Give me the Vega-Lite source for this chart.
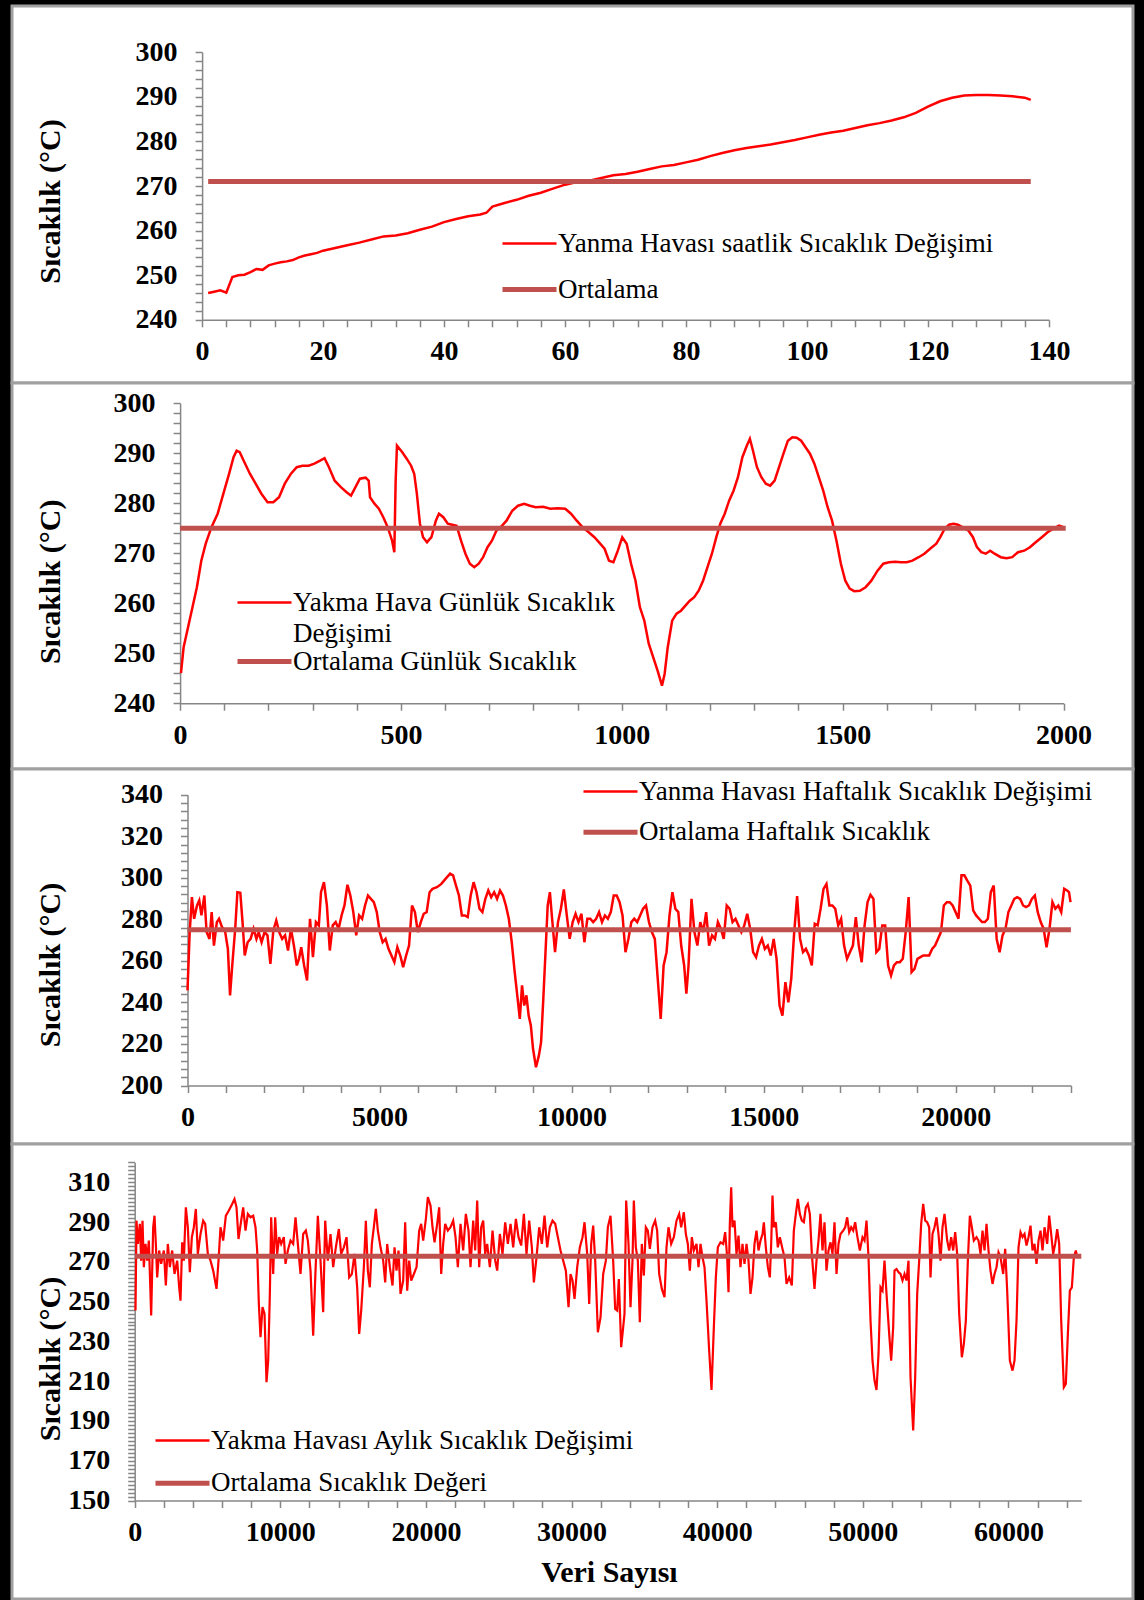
{
"$schema": "https://vega.github.io/schema/vega-lite/v6.json",
"background": "black",
"padding": {"left": 10, "top": 4, "right": 12, "bottom": 0},
"spacing": 0,
"bounds": "flush",
"resolve": {"scale": {"color": "independent"}, "legend": {"color": "independent"}},
"config": {
 "view": {"stroke": "#a0a0a0", "strokeWidth": 3, "fill": "white"},
 "axis": {"grid": false, "domainColor": "#868686", "domainWidth": 1.5, "tickColor": "#868686", "tickWidth": 1.5, "tickSize": 7, "labelFont": "Liberation Serif", "labelFontSize": 28, "labelFontWeight": "bold", "labelColor": "black", "labelOverlap": false, "labelFlush": false, "labelBound": false, "titleFont": "Liberation Serif", "titleFontSize": 30, "titleFontWeight": "bold", "titleColor": "black"},
 "axisX": {"labelPadding": 11},
 "axisY": {"labelPadding": 18},
 "legend": {"labelFont": "Liberation Serif", "labelFontSize": 27, "labelColor": "black", "labelLimit": 1000, "padding": 0}
},
"datasets": {
 "p1": [{"x":1,"y":246.0},{"x":2,"y":246.3},{"x":3,"y":246.6},{"x":4,"y":246.1},{"x":5,"y":249.6},{"x":6,"y":250.0},{"x":7,"y":250.1},{"x":8,"y":250.7},{"x":9,"y":251.4},{"x":10,"y":251.2},{"x":11,"y":252.2},{"x":12,"y":252.6},{"x":13,"y":252.9},{"x":14,"y":253.1},{"x":15,"y":253.4},{"x":16,"y":254.0},{"x":17,"y":254.4},{"x":18,"y":254.7},{"x":19,"y":255.0},{"x":20,"y":255.5},{"x":22,"y":256.1},{"x":24,"y":256.7},{"x":26,"y":257.3},{"x":28,"y":258.0},{"x":30,"y":258.7},{"x":32,"y":258.9},{"x":34,"y":259.4},{"x":36,"y":260.2},{"x":38,"y":260.9},{"x":40,"y":261.9},{"x":42,"y":262.6},{"x":44,"y":263.2},{"x":46,"y":263.6},{"x":47,"y":264.0},{"x":48,"y":265.4},{"x":50,"y":266.2},{"x":52,"y":266.9},{"x":54,"y":267.8},{"x":56,"y":268.5},{"x":58,"y":269.4},{"x":60,"y":270.3},{"x":62,"y":270.9},{"x":64,"y":271.2},{"x":66,"y":271.8},{"x":68,"y":272.4},{"x":70,"y":272.7},{"x":72,"y":273.2},{"x":74,"y":273.8},{"x":76,"y":274.4},{"x":78,"y":274.7},{"x":80,"y":275.3},{"x":82,"y":275.9},{"x":84,"y":276.7},{"x":86,"y":277.4},{"x":88,"y":278.0},{"x":90,"y":278.5},{"x":92,"y":278.9},{"x":94,"y":279.3},{"x":96,"y":279.8},{"x":98,"y":280.3},{"x":100,"y":280.9},{"x":102,"y":281.5},{"x":104,"y":282.0},{"x":106,"y":282.4},{"x":108,"y":283.0},{"x":110,"y":283.6},{"x":112,"y":284.1},{"x":114,"y":284.7},{"x":116,"y":285.4},{"x":118,"y":286.4},{"x":120,"y":287.8},{"x":122,"y":289.0},{"x":124,"y":289.8},{"x":126,"y":290.3},{"x":128,"y":290.4},{"x":130,"y":290.4},{"x":132,"y":290.3},{"x":134,"y":290.1},{"x":136,"y":289.8},{"x":137,"y":289.3}],
 "m1": [{"x":1,"y":271},{"x":137,"y":271}],
 "p2": [{"x":2,"y":246.0},{"x":8,"y":251.2},{"x":18,"y":255.2},{"x":28,"y":259.2},{"x":38,"y":263.2},{"x":48,"y":268.5},{"x":58,"y":271.9},{"x":71,"y":275.2},{"x":85,"y":277.9},{"x":98,"y":281.9},{"x":111,"y":285.9},{"x":121,"y":289.2},{"x":128,"y":290.5},{"x":135,"y":290.2},{"x":144,"y":288.5},{"x":158,"y":285.9},{"x":171,"y":283.9},{"x":184,"y":281.9},{"x":198,"y":280.2},{"x":211,"y":280.2},{"x":224,"y":281.2},{"x":237,"y":283.9},{"x":251,"y":285.9},{"x":264,"y":287.2},{"x":277,"y":287.5},{"x":291,"y":287.5},{"x":304,"y":287.9},{"x":317,"y":288.5},{"x":327,"y":289.0},{"x":337,"y":287.2},{"x":350,"y":284.5},{"x":364,"y":283.2},{"x":377,"y":282.2},{"x":387,"y":281.5},{"x":397,"y":283.2},{"x":407,"y":284.9},{"x":420,"y":285.1},{"x":427,"y":284.5},{"x":430,"y":281.2},{"x":440,"y":279.9},{"x":450,"y":278.9},{"x":460,"y":277.2},{"x":470,"y":275.2},{"x":480,"y":272.5},{"x":485,"y":270.2},{"x":488,"y":284.5},{"x":491,"y":291.5},{"x":503,"y":290.2},{"x":513,"y":288.9},{"x":523,"y":287.5},{"x":530,"y":285.9},{"x":536,"y":281.9},{"x":543,"y":275.9},{"x":550,"y":273.2},{"x":559,"y":272.2},{"x":569,"y":273.2},{"x":579,"y":276.5},{"x":586,"y":277.9},{"x":596,"y":277.2},{"x":606,"y":275.9},{"x":616,"y":275.7},{"x":626,"y":275.5},{"x":636,"y":272.5},{"x":646,"y":269.9},{"x":656,"y":267.9},{"x":666,"y":267.2},{"x":676,"y":267.9},{"x":686,"y":269.2},{"x":696,"y":271.2},{"x":706,"y":272.5},{"x":716,"y":274.5},{"x":729,"y":275.5},{"x":739,"y":276.5},{"x":752,"y":278.5},{"x":765,"y":279.5},{"x":779,"y":279.9},{"x":792,"y":279.5},{"x":805,"y":279.2},{"x":822,"y":279.3},{"x":838,"y":278.9},{"x":855,"y":279.0},{"x":872,"y":278.9},{"x":885,"y":277.9},{"x":898,"y":276.5},{"x":911,"y":275.2},{"x":925,"y":274.2},{"x":938,"y":273.2},{"x":951,"y":271.9},{"x":961,"y":270.9},{"x":971,"y":268.5},{"x":981,"y":268.2},{"x":991,"y":270.5},{"x":1001,"y":273.2},{"x":1011,"y":271.9},{"x":1021,"y":267.9},{"x":1031,"y":264.5},{"x":1041,"y":259.2},{"x":1051,"y":256.5},{"x":1061,"y":251.9},{"x":1071,"y":249.2},{"x":1081,"y":246.5},{"x":1091,"y":243.5},{"x":1097,"y":245.9},{"x":1104,"y":251.2},{"x":1114,"y":256.5},{"x":1124,"y":257.9},{"x":1134,"y":258.5},{"x":1144,"y":259.5},{"x":1154,"y":260.5},{"x":1164,"y":261.2},{"x":1174,"y":262.5},{"x":1184,"y":264.5},{"x":1194,"y":267.2},{"x":1204,"y":269.9},{"x":1214,"y":273.2},{"x":1223,"y":275.9},{"x":1233,"y":277.9},{"x":1243,"y":280.5},{"x":1253,"y":282.5},{"x":1263,"y":285.2},{"x":1273,"y":289.2},{"x":1283,"y":291.5},{"x":1290,"y":292.9},{"x":1297,"y":290.5},{"x":1306,"y":287.2},{"x":1316,"y":285.2},{"x":1326,"y":283.9},{"x":1336,"y":283.5},{"x":1346,"y":284.5},{"x":1356,"y":287.2},{"x":1366,"y":289.9},{"x":1376,"y":292.5},{"x":1386,"y":293.2},{"x":1396,"y":293.1},{"x":1406,"y":292.5},{"x":1416,"y":291.2},{"x":1426,"y":289.9},{"x":1436,"y":287.9},{"x":1446,"y":285.2},{"x":1456,"y":282.5},{"x":1466,"y":279.2},{"x":1476,"y":276.5},{"x":1486,"y":272.5},{"x":1496,"y":267.9},{"x":1506,"y":264.5},{"x":1516,"y":262.9},{"x":1526,"y":262.4},{"x":1539,"y":262.5},{"x":1552,"y":263.2},{"x":1565,"y":264.5},{"x":1579,"y":266.5},{"x":1592,"y":267.9},{"x":1605,"y":268.2},{"x":1619,"y":268.3},{"x":1632,"y":268.2},{"x":1645,"y":268.2},{"x":1658,"y":268.5},{"x":1672,"y":269.2},{"x":1685,"y":269.9},{"x":1698,"y":270.9},{"x":1712,"y":271.9},{"x":1721,"y":273.2},{"x":1731,"y":274.9},{"x":1741,"y":275.7},{"x":1751,"y":275.9},{"x":1761,"y":275.7},{"x":1771,"y":275.2},{"x":1785,"y":274.5},{"x":1795,"y":273.2},{"x":1804,"y":271.2},{"x":1814,"y":270.2},{"x":1824,"y":269.9},{"x":1834,"y":270.5},{"x":1844,"y":269.9},{"x":1858,"y":269.2},{"x":1871,"y":269.0},{"x":1884,"y":269.2},{"x":1897,"y":270.2},{"x":1911,"y":270.5},{"x":1924,"y":271.2},{"x":1937,"y":272.2},{"x":1951,"y":273.2},{"x":1964,"y":274.2},{"x":1977,"y":274.9},{"x":1990,"y":275.5},{"x":2000,"y":275.2}],
 "m2": [{"x":0,"y":275},{"x":2005,"y":275}],
 "p3": [{"x":0,"y":245.8},{"x":57,"y":273.9},{"x":115,"y":290.7},{"x":172,"y":280.3},{"x":248,"y":286.7},{"x":306,"y":289.1},{"x":363,"y":281.9},{"x":439,"y":291.5},{"x":497,"y":273.9},{"x":573,"y":270.6},{"x":630,"y":283.5},{"x":688,"y":267.4},{"x":764,"y":278.7},{"x":821,"y":280.3},{"x":898,"y":276.3},{"x":974,"y":274.7},{"x":1051,"y":265.8},{"x":1108,"y":243.4},{"x":1165,"y":257.8},{"x":1242,"y":275.5},{"x":1299,"y":293.1},{"x":1375,"y":292.8},{"x":1433,"y":278.7},{"x":1490,"y":262.6},{"x":1566,"y":269.0},{"x":1643,"y":270.6},{"x":1719,"y":275.5},{"x":1795,"y":270.6},{"x":1853,"y":273.9},{"x":1929,"y":269.0},{"x":2006,"y":273.9},{"x":2082,"y":272.3},{"x":2158,"y":258.6},{"x":2235,"y":274.7},{"x":2311,"y":279.5},{"x":2388,"y":273.9},{"x":2464,"y":270.6},{"x":2540,"y":272.3},{"x":2617,"y":265.0},{"x":2693,"y":275.5},{"x":2770,"y":267.4},{"x":2846,"y":257.8},{"x":2903,"y":261.0},{"x":2961,"y":266.6},{"x":3037,"y":257.8},{"x":3113,"y":250.6},{"x":3190,"y":280.3},{"x":3266,"y":261.8},{"x":3343,"y":278.7},{"x":3419,"y":277.1},{"x":3476,"y":293.1},{"x":3553,"y":297.9},{"x":3629,"y":286.7},{"x":3705,"y":265.0},{"x":3782,"y":277.1},{"x":3858,"y":278.7},{"x":3935,"y":275.5},{"x":4011,"y":281.9},{"x":4087,"y":286.7},{"x":4164,"y":296.7},{"x":4240,"y":291.5},{"x":4317,"y":283.5},{"x":4393,"y":272.3},{"x":4469,"y":281.9},{"x":4546,"y":280.3},{"x":4622,"y":286.7},{"x":4699,"y":291.5},{"x":4775,"y":289.9},{"x":4851,"y":288.3},{"x":4928,"y":283.5},{"x":5004,"y":273.9},{"x":5081,"y":269.0},{"x":5157,"y":270.6},{"x":5233,"y":265.8},{"x":5310,"y":262.6},{"x":5386,"y":259.4},{"x":5463,"y":266.6},{"x":5539,"y":262.6},{"x":5615,"y":257.0},{"x":5692,"y":262.6},{"x":5768,"y":267.4},{"x":5845,"y":286.7},{"x":5921,"y":283.5},{"x":5997,"y":273.9},{"x":6074,"y":278.7},{"x":6150,"y":282.7},{"x":6227,"y":283.5},{"x":6303,"y":293.1},{"x":6379,"y":294.7},{"x":6494,"y":295.5},{"x":6609,"y":297.1},{"x":6723,"y":299.6},{"x":6838,"y":302.0},{"x":6914,"y":301.2},{"x":6991,"y":296.3},{"x":7067,"y":291.5},{"x":7143,"y":281.9},{"x":7220,"y":281.9},{"x":7296,"y":281.1},{"x":7373,"y":291.5},{"x":7449,"y":297.9},{"x":7525,"y":293.1},{"x":7602,"y":285.1},{"x":7678,"y":283.5},{"x":7755,"y":289.9},{"x":7831,"y":293.9},{"x":7907,"y":290.7},{"x":7984,"y":293.1},{"x":8060,"y":289.9},{"x":8137,"y":293.9},{"x":8213,"y":291.5},{"x":8289,"y":286.7},{"x":8366,"y":280.3},{"x":8442,"y":269.0},{"x":8519,"y":254.6},{"x":8595,"y":241.8},{"x":8652,"y":232.1},{"x":8710,"y":248.2},{"x":8767,"y":238.5},{"x":8824,"y":243.4},{"x":8882,"y":233.7},{"x":8939,"y":228.9},{"x":8996,"y":217.7},{"x":9073,"y":208.8},{"x":9149,"y":214.5},{"x":9206,"y":220.9},{"x":9264,"y":241.8},{"x":9321,"y":264.2},{"x":9378,"y":286.7},{"x":9435,"y":293.1},{"x":9493,"y":280.3},{"x":9569,"y":264.2},{"x":9646,"y":278.7},{"x":9722,"y":285.1},{"x":9798,"y":294.4},{"x":9875,"y":281.9},{"x":9951,"y":270.6},{"x":10028,"y":278.7},{"x":10104,"y":282.7},{"x":10180,"y":278.7},{"x":10257,"y":282.7},{"x":10333,"y":269.0},{"x":10410,"y":280.3},{"x":10486,"y":280.3},{"x":10562,"y":278.7},{"x":10639,"y":280.3},{"x":10715,"y":283.5},{"x":10792,"y":278.7},{"x":10868,"y":281.9},{"x":10944,"y":280.3},{"x":11021,"y":283.5},{"x":11097,"y":291.5},{"x":11174,"y":291.5},{"x":11250,"y":288.3},{"x":11326,"y":281.9},{"x":11403,"y":264.2},{"x":11479,"y":270.6},{"x":11556,"y":278.7},{"x":11632,"y":280.3},{"x":11708,"y":278.7},{"x":11785,"y":281.9},{"x":11861,"y":285.1},{"x":11938,"y":286.7},{"x":12014,"y":278.7},{"x":12090,"y":273.9},{"x":12167,"y":270.6},{"x":12243,"y":251.4},{"x":12320,"y":232.1},{"x":12396,"y":257.8},{"x":12472,"y":264.2},{"x":12549,"y":281.9},{"x":12625,"y":293.1},{"x":12702,"y":285.1},{"x":12778,"y":283.5},{"x":12854,"y":267.4},{"x":12931,"y":257.8},{"x":12988,"y":244.2},{"x":13045,"y":257.8},{"x":13122,"y":289.9},{"x":13198,"y":273.9},{"x":13275,"y":267.4},{"x":13351,"y":278.7},{"x":13427,"y":273.9},{"x":13504,"y":283.5},{"x":13580,"y":267.4},{"x":13657,"y":272.3},{"x":13733,"y":270.6},{"x":13809,"y":278.7},{"x":13886,"y":275.5},{"x":13962,"y":270.6},{"x":14039,"y":286.7},{"x":14115,"y":285.1},{"x":14191,"y":278.7},{"x":14268,"y":280.3},{"x":14344,"y":277.1},{"x":14421,"y":273.9},{"x":14497,"y":277.1},{"x":14573,"y":282.7},{"x":14650,"y":275.5},{"x":14726,"y":264.2},{"x":14803,"y":261.8},{"x":14879,"y":267.4},{"x":14955,"y":270.6},{"x":15032,"y":265.8},{"x":15108,"y":267.4},{"x":15185,"y":262.6},{"x":15261,"y":270.6},{"x":15337,"y":261.0},{"x":15414,"y":238.5},{"x":15490,"y":233.7},{"x":15567,"y":249.8},{"x":15643,"y":240.1},{"x":15719,"y":251.4},{"x":15796,"y":273.9},{"x":15872,"y":291.2},{"x":15949,"y":270.6},{"x":16025,"y":264.2},{"x":16101,"y":265.8},{"x":16178,"y":262.6},{"x":16254,"y":257.8},{"x":16331,"y":277.9},{"x":16407,"y":277.1},{"x":16483,"y":285.1},{"x":16560,"y":294.7},{"x":16636,"y":297.1},{"x":16713,"y":286.7},{"x":16789,"y":286.7},{"x":16865,"y":285.1},{"x":16942,"y":277.1},{"x":17018,"y":280.3},{"x":17095,"y":267.4},{"x":17171,"y":261.0},{"x":17247,"y":264.2},{"x":17324,"y":267.4},{"x":17400,"y":281.1},{"x":17477,"y":267.4},{"x":17553,"y":259.4},{"x":17629,"y":277.1},{"x":17706,"y":288.3},{"x":17782,"y":291.8},{"x":17859,"y":289.9},{"x":17935,"y":264.2},{"x":18011,"y":265.8},{"x":18088,"y":277.1},{"x":18164,"y":277.1},{"x":18241,"y":257.8},{"x":18317,"y":253.0},{"x":18393,"y":257.8},{"x":18470,"y":259.4},{"x":18546,"y":259.4},{"x":18623,"y":261.0},{"x":18699,"y":273.9},{"x":18775,"y":290.7},{"x":18852,"y":254.6},{"x":18928,"y":256.2},{"x":19005,"y":261.0},{"x":19081,"y":261.8},{"x":19157,"y":262.6},{"x":19234,"y":262.6},{"x":19310,"y":262.6},{"x":19387,"y":265.8},{"x":19463,"y":267.4},{"x":19539,"y":270.6},{"x":19616,"y":273.9},{"x":19692,"y":286.7},{"x":19769,"y":288.3},{"x":19845,"y":288.3},{"x":19921,"y":286.7},{"x":19998,"y":283.5},{"x":20074,"y":280.3},{"x":20151,"y":301.2},{"x":20227,"y":301.2},{"x":20303,"y":298.7},{"x":20380,"y":296.3},{"x":20456,"y":284.3},{"x":20533,"y":281.9},{"x":20609,"y":280.3},{"x":20685,"y":278.7},{"x":20762,"y":278.7},{"x":20838,"y":280.3},{"x":20915,"y":293.1},{"x":20991,"y":296.3},{"x":21067,"y":270.6},{"x":21144,"y":264.2},{"x":21220,"y":272.3},{"x":21297,"y":275.5},{"x":21373,"y":283.5},{"x":21449,"y":286.7},{"x":21526,"y":289.9},{"x":21602,"y":290.7},{"x":21679,"y":289.9},{"x":21755,"y":286.7},{"x":21831,"y":285.9},{"x":21908,"y":286.7},{"x":21984,"y":289.9},{"x":22061,"y":291.5},{"x":22137,"y":283.5},{"x":22213,"y":278.7},{"x":22290,"y":275.5},{"x":22366,"y":266.6},{"x":22443,"y":275.5},{"x":22519,"y":288.3},{"x":22595,"y":285.1},{"x":22672,"y":286.7},{"x":22748,"y":283.5},{"x":22825,"y":294.7},{"x":22901,"y":293.9},{"x":22950,"y":293.1},{"x":22990,"y":288.3}],
 "m3": [{"x":0,"y":275},{"x":23000,"y":275}],
 "p4": [{"x":55,"y":245.5},{"x":124,"y":290.7},{"x":216,"y":279.0},{"x":353,"y":289.1},{"x":445,"y":270.6},{"x":536,"y":290.7},{"x":628,"y":267.3},{"x":742,"y":279.0},{"x":857,"y":270.6},{"x":971,"y":280.7},{"x":1131,"y":243.0},{"x":1269,"y":287.4},{"x":1360,"y":293.2},{"x":1452,"y":279.0},{"x":1543,"y":262.2},{"x":1681,"y":275.7},{"x":1818,"y":269.0},{"x":2001,"y":275.7},{"x":2138,"y":258.1},{"x":2276,"y":279.0},{"x":2413,"y":267.3},{"x":2573,"y":275.7},{"x":2733,"y":263.9},{"x":2917,"y":270.6},{"x":3054,"y":257.2},{"x":3146,"y":250.5},{"x":3260,"y":279.8},{"x":3374,"y":270.6},{"x":3512,"y":297.4},{"x":3649,"y":287.4},{"x":3786,"y":264.8},{"x":3924,"y":282.4},{"x":4061,"y":287.4},{"x":4198,"y":296.6},{"x":4336,"y":274.0},{"x":4519,"y":284.0},{"x":4702,"y":290.7},{"x":4839,"y":289.1},{"x":5022,"y":274.0},{"x":5206,"y":270.6},{"x":5389,"y":265.6},{"x":5618,"y":256.4},{"x":5755,"y":270.6},{"x":5892,"y":287.4},{"x":6075,"y":280.7},{"x":6259,"y":293.2},{"x":6465,"y":295.8},{"x":6693,"y":299.1},{"x":6854,"y":301.6},{"x":6991,"y":297.4},{"x":7128,"y":281.5},{"x":7311,"y":290.7},{"x":7449,"y":297.4},{"x":7609,"y":285.7},{"x":7769,"y":294.1},{"x":7952,"y":292.4},{"x":8136,"y":293.2},{"x":8296,"y":287.4},{"x":8410,"y":275.7},{"x":8525,"y":248.8},{"x":8639,"y":232.1},{"x":8776,"y":247.2},{"x":8914,"y":243.8},{"x":9051,"y":209.5},{"x":9166,"y":220.3},{"x":9280,"y":253.9},{"x":9372,"y":292.4},{"x":9509,"y":263.9},{"x":9646,"y":292.4},{"x":9784,"y":274.0},{"x":9921,"y":282.4},{"x":10058,"y":279.0},{"x":10241,"y":282.4},{"x":10356,"y":269.0},{"x":10516,"y":275.7},{"x":10699,"y":280.7},{"x":10882,"y":279.0},{"x":11043,"y":292.4},{"x":11203,"y":279.0},{"x":11386,"y":263.9},{"x":11569,"y":284.0},{"x":11752,"y":285.7},{"x":11889,"y":280.7},{"x":12073,"y":265.6},{"x":12256,"y":232.9},{"x":12416,"y":265.6},{"x":12576,"y":293.2},{"x":12759,"y":270.6},{"x":12942,"y":244.7},{"x":13080,"y":290.7},{"x":13263,"y":270.6},{"x":13446,"y":284.0},{"x":13629,"y":267.3},{"x":13812,"y":277.3},{"x":14018,"y":286.5},{"x":14178,"y":274.0},{"x":14362,"y":277.3},{"x":14545,"y":282.4},{"x":14728,"y":262.2},{"x":14911,"y":263.9},{"x":15094,"y":274.0},{"x":15277,"y":257.2},{"x":15415,"y":233.8},{"x":15552,"y":245.5},{"x":15735,"y":267.3},{"x":15872,"y":290.7},{"x":16010,"y":265.6},{"x":16147,"y":257.2},{"x":16284,"y":279.0},{"x":16422,"y":287.4},{"x":16559,"y":296.6},{"x":16696,"y":285.7},{"x":16880,"y":277.3},{"x":17063,"y":270.6},{"x":17200,"y":259.7},{"x":17337,"y":279.0},{"x":17520,"y":267.3},{"x":17704,"y":258.1},{"x":17841,"y":277.3},{"x":17978,"y":265.6},{"x":18116,"y":275.7},{"x":18253,"y":253.9},{"x":18436,"y":260.6},{"x":18573,"y":289.9},{"x":18711,"y":255.5},{"x":18848,"y":270.6},{"x":18985,"y":260.6},{"x":19169,"y":263.9},{"x":19352,"y":267.3},{"x":19535,"y":285.7},{"x":19672,"y":289.1},{"x":19809,"y":280.7},{"x":19993,"y":291.6},{"x":20130,"y":302.5},{"x":20313,"y":298.3},{"x":20450,"y":287.4},{"x":20588,"y":279.8},{"x":20771,"y":289.1},{"x":20908,"y":297.4},{"x":21045,"y":263.9},{"x":21183,"y":279.0},{"x":21320,"y":289.1},{"x":21503,"y":285.7},{"x":21686,"y":287.4},{"x":21870,"y":290.7},{"x":22030,"y":282.4},{"x":22190,"y":267.3},{"x":22373,"y":289.1},{"x":22556,"y":275.7},{"x":22739,"y":294.1},{"x":22922,"y":285.7},{"x":23060,"y":267.3},{"x":23243,"y":290.7},{"x":23380,"y":275.7},{"x":23518,"y":300.8},{"x":23655,"y":267.3},{"x":23792,"y":287.4},{"x":23930,"y":290.7},{"x":24067,"y":274.0},{"x":24204,"y":279.0},{"x":24387,"y":267.3},{"x":24571,"y":285.7},{"x":24754,"y":270.6},{"x":24891,"y":265.6},{"x":25074,"y":284.0},{"x":25257,"y":274.0},{"x":25440,"y":289.9},{"x":25623,"y":279.0},{"x":25807,"y":289.1},{"x":25990,"y":277.3},{"x":26173,"y":291.6},{"x":26356,"y":282.4},{"x":26539,"y":278.2},{"x":26722,"y":294.1},{"x":26905,"y":274.0},{"x":27088,"y":290.7},{"x":27272,"y":277.3},{"x":27409,"y":259.7},{"x":27592,"y":272.3},{"x":27775,"y":287.4},{"x":27958,"y":279.0},{"x":28141,"y":293.2},{"x":28325,"y":277.3},{"x":28508,"y":287.4},{"x":28691,"y":290.7},{"x":28874,"y":289.1},{"x":29057,"y":282.4},{"x":29240,"y":275.7},{"x":29423,"y":270.6},{"x":29606,"y":265.6},{"x":29789,"y":247.2},{"x":29927,"y":263.9},{"x":30064,"y":260.6},{"x":30201,"y":251.4},{"x":30385,"y":267.3},{"x":30568,"y":277.3},{"x":30751,"y":282.4},{"x":30888,"y":289.9},{"x":31071,"y":274.0},{"x":31209,"y":248.8},{"x":31346,"y":279.0},{"x":31483,"y":288.2},{"x":31621,"y":270.6},{"x":31804,"y":234.6},{"x":31987,"y":242.1},{"x":32170,"y":263.9},{"x":32353,"y":270.6},{"x":32490,"y":287.4},{"x":32674,"y":293.2},{"x":32855,"y":270.6},{"x":32992,"y":246.3},{"x":33130,"y":245.5},{"x":33244,"y":261.4},{"x":33404,"y":227.1},{"x":33542,"y":237.1},{"x":33633,"y":243.8},{"x":33748,"y":300.8},{"x":33908,"y":279.0},{"x":34045,"y":247.2},{"x":34182,"y":270.6},{"x":34274,"y":300.8},{"x":34411,"y":277.3},{"x":34549,"y":270.6},{"x":34686,"y":239.6},{"x":34823,"y":279.0},{"x":34961,"y":263.1},{"x":35098,"y":287.4},{"x":35235,"y":285.7},{"x":35373,"y":276.5},{"x":35556,"y":287.4},{"x":35739,"y":290.7},{"x":35876,"y":285.7},{"x":36014,"y":263.9},{"x":36197,"y":256.4},{"x":36380,"y":252.2},{"x":36517,"y":277.3},{"x":36655,"y":287.4},{"x":36838,"y":279.0},{"x":37021,"y":282.4},{"x":37204,"y":290.7},{"x":37387,"y":294.1},{"x":37524,"y":287.4},{"x":37708,"y":294.9},{"x":37845,"y":284.0},{"x":37982,"y":279.0},{"x":38120,"y":265.6},{"x":38257,"y":282.4},{"x":38394,"y":275.7},{"x":38577,"y":279.0},{"x":38715,"y":267.3},{"x":38852,"y":279.0},{"x":38989,"y":272.3},{"x":39127,"y":267.3},{"x":39264,"y":250.5},{"x":39447,"y":225.4},{"x":39607,"y":205.6},{"x":39768,"y":237.1},{"x":39905,"y":262.2},{"x":40042,"y":277.3},{"x":40225,"y":279.8},{"x":40409,"y":279.0},{"x":40546,"y":284.9},{"x":40683,"y":272.3},{"x":40775,"y":254.7},{"x":40866,"y":289.1},{"x":40958,"y":307.5},{"x":41049,"y":287.4},{"x":41187,"y":290.7},{"x":41324,"y":274.0},{"x":41461,"y":283.2},{"x":41599,"y":267.3},{"x":41736,"y":279.0},{"x":41873,"y":269.0},{"x":42011,"y":279.0},{"x":42148,"y":270.6},{"x":42286,"y":253.9},{"x":42423,"y":262.2},{"x":42560,"y":279.0},{"x":42698,"y":285.7},{"x":42835,"y":275.7},{"x":42972,"y":280.7},{"x":43110,"y":284.0},{"x":43201,"y":289.9},{"x":43338,"y":277.3},{"x":43476,"y":267.3},{"x":43613,"y":262.2},{"x":43705,"y":279.0},{"x":43796,"y":303.3},{"x":43888,"y":287.4},{"x":44025,"y":289.9},{"x":44162,"y":277.3},{"x":44300,"y":282.4},{"x":44483,"y":276.5},{"x":44620,"y":272.3},{"x":44758,"y":258.9},{"x":44941,"y":262.2},{"x":45124,"y":258.1},{"x":45261,"y":285.7},{"x":45399,"y":294.1},{"x":45536,"y":301.6},{"x":45673,"y":294.1},{"x":45811,"y":290.7},{"x":45948,"y":289.9},{"x":46085,"y":297.4},{"x":46223,"y":299.1},{"x":46360,"y":294.1},{"x":46497,"y":274.0},{"x":46680,"y":256.4},{"x":46818,"y":270.6},{"x":46955,"y":280.7},{"x":47092,"y":294.1},{"x":47230,"y":275.7},{"x":47367,"y":289.9},{"x":47504,"y":265.6},{"x":47642,"y":275.7},{"x":47779,"y":279.8},{"x":47916,"y":274.0},{"x":48054,"y":289.9},{"x":48191,"y":263.9},{"x":48328,"y":279.0},{"x":48466,"y":284.0},{"x":48649,"y":285.7},{"x":48786,"y":287.4},{"x":48924,"y":292.4},{"x":49061,"y":284.9},{"x":49198,"y":287.4},{"x":49336,"y":285.7},{"x":49473,"y":289.9},{"x":49610,"y":283.2},{"x":49793,"y":275.7},{"x":49977,"y":282.4},{"x":50114,"y":280.7},{"x":50251,"y":290.7},{"x":50389,"y":272.3},{"x":50526,"y":240.5},{"x":50663,"y":220.3},{"x":50801,"y":210.3},{"x":50938,"y":205.6},{"x":51075,"y":223.7},{"x":51213,"y":257.2},{"x":51350,"y":255.5},{"x":51487,"y":270.6},{"x":51625,"y":253.9},{"x":51808,"y":233.8},{"x":51945,"y":220.3},{"x":52082,"y":237.1},{"x":52174,"y":265.6},{"x":52311,"y":266.4},{"x":52449,"y":264.8},{"x":52586,"y":263.9},{"x":52723,"y":260.6},{"x":52861,"y":263.9},{"x":52998,"y":260.6},{"x":53135,"y":270.6},{"x":53273,"y":212.0},{"x":53456,"y":185.2},{"x":53593,"y":212.0},{"x":53731,"y":253.9},{"x":53868,"y":270.6},{"x":54005,"y":289.1},{"x":54143,"y":299.1},{"x":54280,"y":290.7},{"x":54417,"y":289.9},{"x":54555,"y":287.4},{"x":54646,"y":262.2},{"x":54783,"y":284.0},{"x":54921,"y":287.4},{"x":55058,"y":292.4},{"x":55195,"y":284.0},{"x":55333,"y":270.6},{"x":55470,"y":287.4},{"x":55607,"y":294.1},{"x":55791,"y":280.7},{"x":55928,"y":275.7},{"x":56065,"y":282.4},{"x":56203,"y":275.7},{"x":56340,"y":284.9},{"x":56477,"y":274.0},{"x":56615,"y":243.8},{"x":56798,"y":222.0},{"x":56935,"y":228.7},{"x":57072,"y":240.5},{"x":57210,"y":270.6},{"x":57347,"y":293.2},{"x":57484,"y":287.4},{"x":57622,"y":280.7},{"x":57805,"y":282.4},{"x":57942,"y":280.7},{"x":58080,"y":274.0},{"x":58217,"y":285.7},{"x":58354,"y":275.7},{"x":58492,"y":289.1},{"x":58629,"y":275.7},{"x":58766,"y":265.6},{"x":58904,"y":258.9},{"x":59041,"y":263.9},{"x":59178,"y":267.3},{"x":59316,"y":274.8},{"x":59453,"y":272.3},{"x":59636,"y":263.9},{"x":59773,"y":276.5},{"x":59911,"y":255.5},{"x":60094,"y":220.3},{"x":60277,"y":215.3},{"x":60414,"y":220.3},{"x":60552,"y":240.5},{"x":60689,"y":277.3},{"x":60826,"y":284.9},{"x":60964,"y":282.4},{"x":61101,"y":284.0},{"x":61238,"y":278.2},{"x":61376,"y":282.4},{"x":61513,"y":288.2},{"x":61650,"y":275.7},{"x":61788,"y":279.0},{"x":61925,"y":269.0},{"x":62062,"y":280.7},{"x":62200,"y":285.7},{"x":62337,"y":275.7},{"x":62474,"y":287.4},{"x":62658,"y":279.0},{"x":62795,"y":293.2},{"x":62932,"y":284.0},{"x":63070,"y":274.0},{"x":63207,"y":279.0},{"x":63344,"y":286.5},{"x":63482,"y":279.0},{"x":63619,"y":240.5},{"x":63802,"y":206.9},{"x":63939,"y":208.6},{"x":64077,"y":233.8},{"x":64214,"y":255.5},{"x":64351,"y":257.2},{"x":64489,"y":272.3},{"x":64626,"y":275.7},{"x":64718,"y":272.3}],
 "m4": [{"x":0,"y":272.8},{"x":65000,"y":272.8}]
},
"vconcat": [
 {
  "width": 1121, "height": 377,
  "layer": [
   {"data": {"name": "p1"}, "mark": {"type": "line", "strokeWidth": 2.5},
    "encoding": {
     "x": {"field": "x", "type": "quantitative", "scale": {"domain": [0, 140], "range": [190.1, 1036.9], "nice": false, "zero": false},
      "axis": {"title": null, "offset": -63.2, "labelOverlap": false, "tickCount": 1000, "format": "d", "values": [0,4,8,12,16,20,24,28,32,36,40,44,48,52,56,60,64,68,72,76,80,84,88,92,96,100,104,108,112,116,120,124,128,132,136,140], "labelExpr": "datum.value % 20 === 0 ? datum.label : ''"}},
     "y": {"field": "y", "type": "quantitative", "scale": {"domain": [240, 300], "range": [313.8, 46.2], "nice": false, "zero": false},
      "axis": {"title": "Sıcaklık (°C)", "offset": -190.1, "labelOverlap": false, "tickCount": 1000, "format": "d", "titleX": -151.6, "titleY": 195, "titleAngle": 270, "titleAlign": "center", "titleBaseline": "middle", "values": [240,242,244,246,248,250,252,254,256,258,260,262,264,266,268,270,272,274,276,278,280,282,284,286,288,290,292,294,296,298,300], "labelExpr": "datum.value % 10 === 0 ? datum.label : ''"}},
     "color": {"datum": "Yanma Havası saatlik Sıcaklık Değişimi", "scale": {"domain": ["Yanma Havası saatlik Sıcaklık Değişimi", "Ortalama"], "range": ["#ff0000", "#c0504d"]},
      "legend": {"title": null, "orient": "none", "legendX": 504, "legendY": 224, "symbolType": "M-2.5,0H2.5", "symbolSize": 467, "labelOffset": 15, "rowPadding": 18, "encode": {"symbols": {"update": {"strokeWidth": {"signal": "datum.index === 1 ? 5 : 2.5"}}}}}}
    }},
   {"data": {"name": "m1"}, "mark": {"type": "line", "strokeWidth": 5},
    "encoding": {"x": {"field": "x", "type": "quantitative"}, "y": {"field": "y", "type": "quantitative"}, "color": {"datum": "Ortalama"}}}
  ]
 },
 {
  "width": 1121, "height": 386,
  "layer": [
   {"data": {"name": "p2"}, "mark": {"type": "line", "strokeWidth": 2.5},
    "encoding": {
     "x": {"field": "x", "type": "quantitative", "scale": {"domain": [0, 2000], "range": [168.1, 1051.5], "nice": false, "zero": false},
      "axis": {"title": null, "offset": -65.8, "labelOverlap": false, "tickCount": 1000, "format": "d", "values": [0,100,200,300,400,500,600,700,800,900,1000,1100,1200,1300,1400,1500,1600,1700,1800,1900,2000], "labelExpr": "datum.value % 500 === 0 ? datum.label : ''"}},
     "y": {"field": "y", "type": "quantitative", "scale": {"domain": [240, 300], "range": [320.2, 20.2], "nice": false, "zero": false},
      "axis": {"title": "Sıcaklık (°C)", "offset": -168.1, "labelOverlap": false, "tickCount": 1000, "format": "d", "titleX": -129.6, "titleY": 198.3, "titleAngle": 270, "titleAlign": "center", "titleBaseline": "middle", "values": [240,242,244,246,248,250,252,254,256,258,260,262,264,266,268,270,272,274,276,278,280,282,284,286,288,290,292,294,296,298,300], "labelExpr": "datum.value % 10 === 0 ? datum.label : ''"}},
     "color": {"datum": "Yakma Hava Günlük Sıcaklık Değişimi", "scale": {"domain": ["Yakma Hava Günlük Sıcaklık Değişimi", "Ortalama Günlük Sıcaklık"], "range": ["#ff0000", "#c0504d"]},
      "legend": {"title": null, "orient": "none", "legendX": 239, "legendY": 206, "symbolType": "M-2.5,0H2.5", "symbolSize": 467, "labelOffset": 15, "rowPadding": -3,
       "labelExpr": "datum.value === 'Yakma Hava Günlük Sıcaklık Değişimi' ? ['Yakma Hava Günlük Sıcaklık', 'Değişimi'] : datum.label",
       "encode": {"symbols": {"update": {"strokeWidth": {"signal": "datum.index === 1 ? 5 : 2.5"}}}, "labels": {"update": {"baseline": {"value": "top"}, "dy": {"value": -13}, "lineHeight": {"value": 31.6}}}}}}
    }},
   {"data": {"name": "m2"}, "mark": {"type": "line", "strokeWidth": 5},
    "encoding": {"x": {"field": "x", "type": "quantitative"}, "y": {"field": "y", "type": "quantitative"}, "color": {"datum": "Ortalama Günlük Sıcaklık"}}}
  ]
 },
 {
  "width": 1121, "height": 375,
  "layer": [
   {"data": {"name": "p3"}, "mark": {"type": "line", "strokeWidth": 2.5},
    "encoding": {
     "x": {"field": "x", "type": "quantitative", "scale": {"domain": [0, 23000], "range": [175.5, 1058.9], "nice": false, "zero": false},
      "axis": {"title": null, "offset": -58.5, "labelOverlap": false, "tickCount": 1000, "format": "d", "values": [0,1000,2000,3000,4000,5000,6000,7000,8000,9000,10000,11000,12000,13000,14000,15000,16000,17000,18000,19000,20000,21000,22000,23000], "labelExpr": "datum.value % 5000 === 0 ? datum.label : ''"}},
     "y": {"field": "y", "type": "quantitative", "scale": {"domain": [200, 340], "range": [316.5, 25.8], "nice": false, "zero": false},
      "axis": {"title": "Sıcaklık (°C)", "offset": -175.5, "labelOverlap": false, "tickCount": 1000, "format": "d", "titleX": -137, "titleY": 195.5, "titleAngle": 270, "titleAlign": "center", "titleBaseline": "middle", "values": [200,204,208,212,216,220,224,228,232,236,240,244,248,252,256,260,264,268,272,276,280,284,288,292,296,300,304,308,312,316,320,324,328,332,336,340], "labelExpr": "datum.value % 20 === 0 ? datum.label : ''"}},
     "color": {"datum": "Yanma Havası Haftalık Sıcaklık Değişimi", "scale": {"domain": ["Yanma Havası Haftalık Sıcaklık Değişimi", "Ortalama Haftalık Sıcaklık"], "range": ["#ff0000", "#c0504d"]},
      "legend": {"title": null, "orient": "none", "legendX": 585, "legendY": 9, "symbolType": "M-2.5,0H2.5", "symbolSize": 467, "labelOffset": 15, "rowPadding": 12.7, "encode": {"symbols": {"update": {"strokeWidth": {"signal": "datum.index === 1 ? 5 : 2.5"}}}}}}
    }},
   {"data": {"name": "m3"}, "mark": {"type": "line", "strokeWidth": 5},
    "encoding": {"x": {"field": "x", "type": "quantitative"}, "y": {"field": "y", "type": "quantitative"}, "color": {"datum": "Ortalama Haftalık Sıcaklık"}}}
  ]
 },
 {
  "width": 1121, "height": 455,
  "layer": [
   {"data": {"name": "p4"}, "mark": {"type": "line", "strokeWidth": 2.2},
    "encoding": {
     "x": {"field": "x", "type": "quantitative", "scale": {"domain": [0, 65000], "range": [122.7, 1069.3], "nice": false, "zero": false},
      "axis": {"title": "Veri Sayısı", "offset": -98.5, "labelOverlap": false, "tickCount": 1000, "titleX": 597, "titleY": 71.7, "titleBaseline": "middle", "titleAlign": "center", "format": "d", "values": [0,2000,4000,6000,8000,10000,12000,14000,16000,18000,20000,22000,24000,26000,28000,30000,32000,34000,36000,38000,40000,42000,44000,46000,48000,50000,52000,54000,56000,58000,60000,62000,64000], "labelExpr": "datum.value % 10000 === 0 ? datum.label : ''"}},
     "y": {"field": "y", "type": "quantitative", "scale": {"domain": [150, 320], "range": [356.5, 18.4], "nice": false, "zero": false},
      "axis": {"title": "Sıcaklık (°C)", "offset": -122.7, "labelOverlap": false, "tickCount": 1000, "format": "d", "titleX": -84.2, "titleY": 214.5, "titleAngle": 270, "titleAlign": "center", "titleBaseline": "middle", "values": [150,152,154,156,158,160,162,164,166,168,170,172,174,176,178,180,182,184,186,188,190,192,194,196,198,200,202,204,206,208,210,212,214,216,218,220,222,224,226,228,230,232,234,236,238,240,242,244,246,248,250,252,254,256,258,260,262,264,266,268,270,272,274,276,278,280,282,284,286,288,290,292,294,296,298,300,302,304,306,308,310,312,314,316,318,320], "labelExpr": "(datum.value - 150) % 20 === 0 ? datum.label : ''"}},
     "color": {"datum": "Yakma Havası Aylık Sıcaklık Değişimi", "scale": {"domain": ["Yakma Havası Aylık Sıcaklık Değişimi", "Ortalama Sıcaklık Değeri"], "range": ["#ff0000", "#c0504d"]},
      "legend": {"title": null, "orient": "none", "legendX": 157, "legendY": 283, "symbolType": "M-2.5,0H2.5", "symbolSize": 467, "labelOffset": 15, "rowPadding": 14.7, "encode": {"symbols": {"update": {"strokeWidth": {"signal": "datum.index === 1 ? 5 : 2.5"}}}}}}
    }},
   {"data": {"name": "m4"}, "mark": {"type": "line", "strokeWidth": 5},
    "encoding": {"x": {"field": "x", "type": "quantitative"}, "y": {"field": "y", "type": "quantitative"}, "color": {"datum": "Ortalama Sıcaklık Değeri"}}}
  ]
 }
]
}
